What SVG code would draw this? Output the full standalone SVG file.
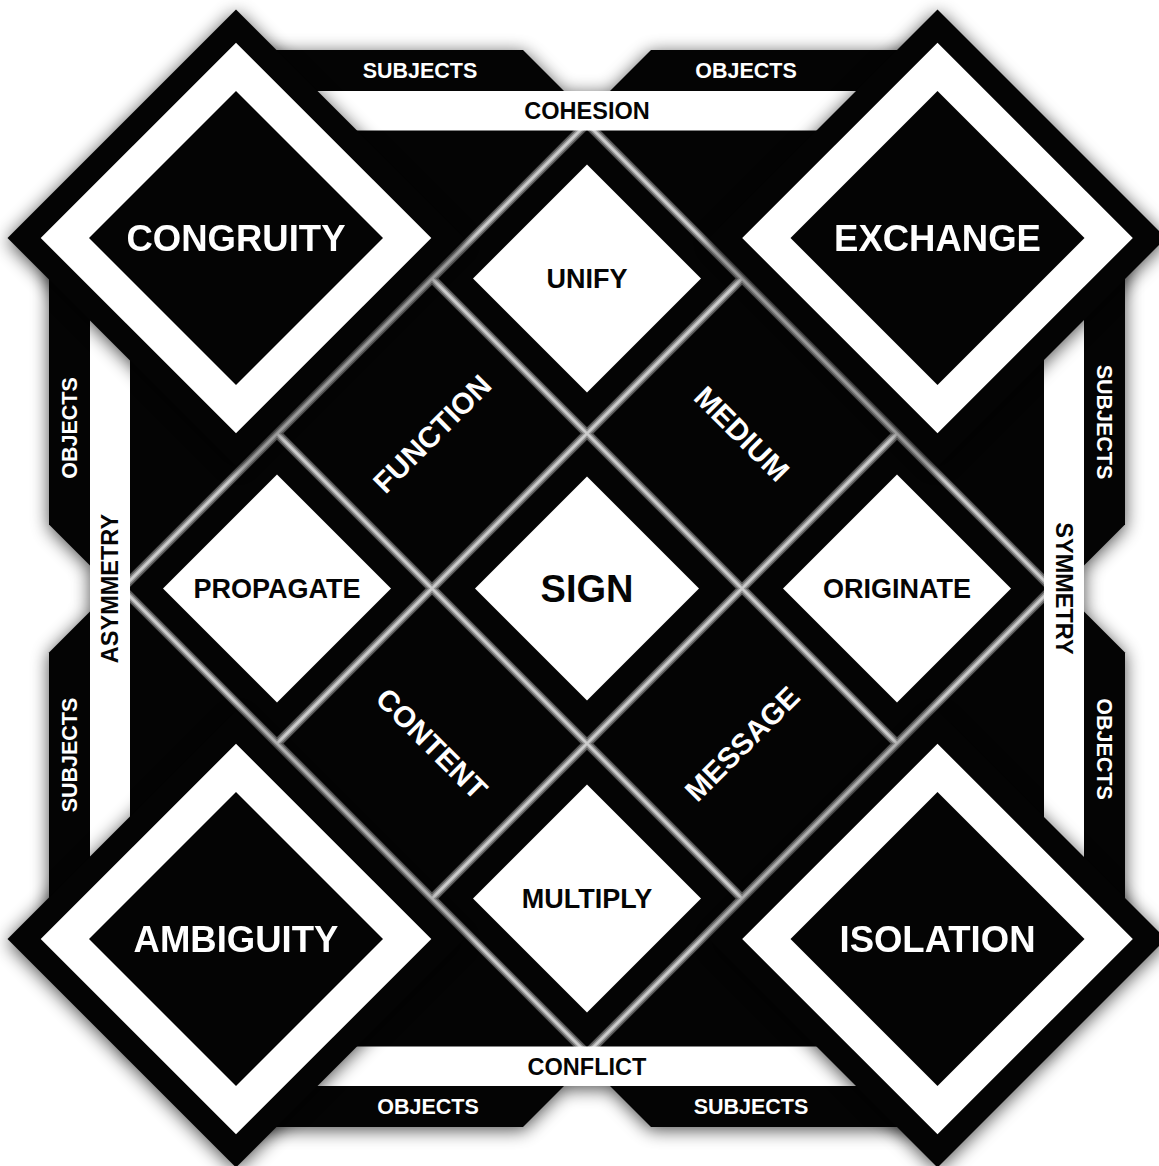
<svg xmlns="http://www.w3.org/2000/svg" xmlns:xlink="http://www.w3.org/1999/xlink" width="1159" height="1166" viewBox="0 0 1159 1166">
  <style>
    .lbl { font-family: "Liberation Sans", Arial, Helvetica, sans-serif; font-weight: 700; text-anchor: middle; }
    .corner-t { fill: #ffffff; font-size: 36.5px; }
    .cell-t { fill: #050505; font-size: 27px; }
    .sign-t { fill: #050505; font-size: 38px; }
    .rot-t { fill: #ffffff; font-size: 29.5px; }
    .band-b { fill: #ffffff; font-size: 21.5px; }
    .band-w { fill: #050505; font-size: 23.5px; }
    .blk { fill: #040404; }
    .wht { fill: #ffffff; }
    .gl-out { stroke: #5a5a5a; stroke-width: 9; fill: none; }
    .gl-mid { stroke: #959595; stroke-width: 5.5; fill: none; }
    .gl-in { stroke: #cdcdcd; stroke-width: 2.5; fill: none; }
  </style>
  <defs>
    <filter id="shadow" x="-15%" y="-15%" width="130%" height="130%" color-interpolation-filters="sRGB">
      <feGaussianBlur in="SourceAlpha" stdDeviation="9"/>
      <feOffset dx="0" dy="3" result="b"/>
      <feComponentTransfer in="b" result="s">
        <feFuncA type="linear" slope="0.7"/>
      </feComponentTransfer>
      <feMerge>
        <feMergeNode in="s"/>
        <feMergeNode in="SourceGraphic"/>
      </feMerge>
    </filter>
    <path id="gp" d="M122,588.5 L587,1053.5 M277,433.5 L742,898.5 M432,278.5 L897,743.5 M587,123.5 L1052,588.5 M122,588.5 L587,123.5 M277,743.5 L742,278.5 M432,898.5 L897,433.5 M587,1053.5 L1052,588.5"/>
    <g id="cornerShape">
      <polygon class="blk" points="0,-228.5 228.5,0 0,228.5 -228.5,0"/>
      <polygon class="wht" points="0,-195.3 195.3,0 0,195.3 -195.3,0"/>
      <polygon class="blk" points="0,-147 147,0 0,147 -147,0"/>
    </g>
  </defs>

  <!-- background silhouette -->
  <g id="background" filter="url(#shadow)">
    <rect class="blk" x="128" y="128" width="918" height="920"/>
    <polygon class="blk" points="236,50 523,50 564,91 236,91"/>
    <polygon class="blk" points="651,50 937.5,50 937.5,91 610,91"/>
    <polygon class="blk" points="236,1127 523,1127 564,1086 236,1086"/>
    <polygon class="blk" points="651,1127 937.5,1127 937.5,1086 610,1086"/>
    <polygon class="blk" points="49,238 49,524.5 90,565.5 90,238"/>
    <polygon class="blk" points="49,652.5 49,939 90,939 90,611.5"/>
    <polygon class="blk" points="1125,238 1125,524.5 1084,565.5 1084,238"/>
    <polygon class="blk" points="1125,652.5 1125,939 1084,939 1084,611.5"/>
    <rect class="blk" x="90" y="238" width="40" height="701"/>
    <rect class="blk" x="1044" y="238" width="40" height="701"/>
    <rect class="blk" x="236" y="91" width="701.5" height="40"/>
    <rect class="blk" x="236" y="1046" width="701.5" height="40"/>
  </g>

  <!-- grid separators -->
  <g id="grid-lines">
    <use xlink:href="#gp" href="#gp" class="gl-out"/>
    <use xlink:href="#gp" href="#gp" class="gl-mid"/>
    <use xlink:href="#gp" href="#gp" class="gl-in"/>
  </g>

  <!-- grid cells -->
  <g id="node-sign">
    <polygon class="wht" points="587,476.5 699,588.5 587,700.5 475,588.5"/>
    <text class="lbl sign-t" x="587" y="602.1">SIGN</text>
  </g>
  <g id="node-unify">
    <polygon class="wht" points="587,164.5 701,278.5 587,392.5 473,278.5"/>
    <text class="lbl cell-t" x="587" y="288.2">UNIFY</text>
  </g>
  <g id="node-multiply">
    <polygon class="wht" points="587,784.5 701,898.5 587,1012.5 473,898.5"/>
    <text class="lbl cell-t" x="587" y="908.2">MULTIPLY</text>
  </g>
  <g id="node-propagate">
    <polygon class="wht" points="277,474.5 391,588.5 277,702.5 163,588.5"/>
    <text class="lbl cell-t" x="277" y="598.2">PROPAGATE</text>
  </g>
  <g id="node-originate">
    <polygon class="wht" points="897,474.5 1011,588.5 897,702.5 783,588.5"/>
    <text class="lbl cell-t" x="897" y="598.2">ORIGINATE</text>
  </g>
  <g id="node-function" transform="translate(432,433.5) rotate(-45)">
    <text class="lbl rot-t" x="0" y="10.6">FUNCTION</text>
  </g>
  <g id="node-medium" transform="translate(742,433.5) rotate(45)">
    <text class="lbl rot-t" x="0" y="10.6">MEDIUM</text>
  </g>
  <g id="node-content" transform="translate(432,743.5) rotate(45)">
    <text class="lbl rot-t" x="0" y="10.6">CONTENT</text>
  </g>
  <g id="node-message" transform="translate(742,743.5) rotate(-45)">
    <text class="lbl rot-t" x="0" y="10.6">MESSAGE</text>
  </g>

  <!-- bands -->
  <g id="band-top">
    <rect class="wht" x="236" y="91" width="701.5" height="39.5"/>
    <text class="lbl band-b" x="420" y="78.2">SUBJECTS</text>
    <text class="lbl band-b" x="746" y="78.2">OBJECTS</text>
    <text class="lbl band-w" x="587" y="119.2">COHESION</text>
  </g>
  <g id="band-bottom">
    <rect class="wht" x="236" y="1046.5" width="701.5" height="39.5"/>
    <text class="lbl band-b" x="428" y="1114.2">OBJECTS</text>
    <text class="lbl band-b" x="751" y="1114.2">SUBJECTS</text>
    <text class="lbl band-w" x="587" y="1074.7">CONFLICT</text>
  </g>
  <g id="band-left">
    <rect class="wht" x="90" y="238" width="40" height="701"/>
    <text class="lbl band-b" transform="translate(69.5,428) rotate(-90)" x="0" y="7.7">OBJECTS</text>
    <text class="lbl band-b" transform="translate(69.5,755) rotate(-90)" x="0" y="7.7">SUBJECTS</text>
    <text class="lbl band-w" transform="translate(110,588.5) rotate(-90)" x="0" y="8.4">ASYMMETRY</text>
  </g>
  <g id="band-right">
    <rect class="wht" x="1044" y="238" width="40" height="701"/>
    <text class="lbl band-b" transform="translate(1104.5,422) rotate(90)" x="0" y="7.7">SUBJECTS</text>
    <text class="lbl band-b" transform="translate(1104.5,749) rotate(90)" x="0" y="7.7">OBJECTS</text>
    <text class="lbl band-w" transform="translate(1064,588.5) rotate(90)" x="0" y="8.4">SYMMETRY</text>
  </g>

  <!-- corner nodes -->
  <g id="node-congruity" filter="url(#shadow)">
    <use xlink:href="#cornerShape" href="#cornerShape" x="236" y="238"/>
    <text class="lbl corner-t" x="236" y="251.1">CONGRUITY</text>
  </g>
  <g id="node-exchange" filter="url(#shadow)">
    <use xlink:href="#cornerShape" href="#cornerShape" x="937.5" y="238"/>
    <text class="lbl corner-t" x="937.5" y="251.1">EXCHANGE</text>
  </g>
  <g id="node-ambiguity" filter="url(#shadow)">
    <use xlink:href="#cornerShape" href="#cornerShape" x="236" y="939"/>
    <text class="lbl corner-t" x="236" y="952.1">AMBIGUITY</text>
  </g>
  <g id="node-isolation" filter="url(#shadow)">
    <use xlink:href="#cornerShape" href="#cornerShape" x="937.5" y="939"/>
    <text class="lbl corner-t" x="937.5" y="952.1">ISOLATION</text>
  </g>
</svg>
